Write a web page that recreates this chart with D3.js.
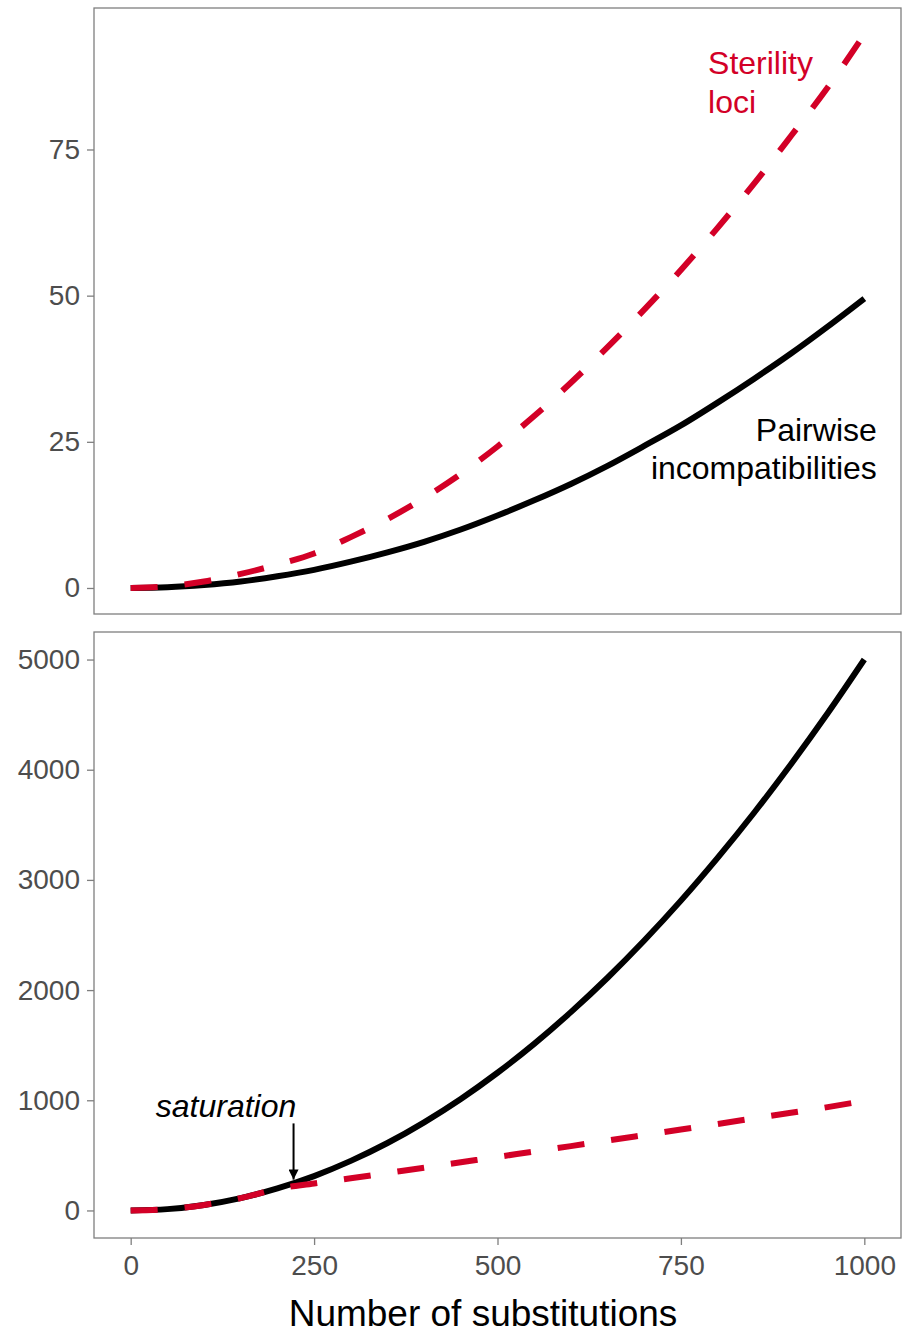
<!DOCTYPE html>
<html lang="en">
  <head>
    <script src="https://d3js.org/d3.v7.min.js"></script>
    <meta charset="utf-8">
    <style>
      body { margin: 0; background: #fff; }
      svg text { font-family: "Liberation Sans", Arial, Helvetica, sans-serif; }
      .tick text { fill: #4d4d4d; font-size: 28px; }
      .tick line { stroke: #7f7f7f; stroke-width: 1.3; }
      .domain { display: none; }
    </style>
    <title></title>
  </head>
  <body>
    <svg id="chart" width="903" height="1335"></svg>
  </body>
</html>

<script>
    // number of substitutions
    const subs = [0, 50, 100, 150, 200, 250, 300, 350, 400, 450, 500,
                  550, 600, 650, 700, 750, 800, 850, 900, 950, 1000];

    // top panel
    const pairsTop = [0, 0.12, 0.5, 1.1, 2.0, 3.1, 4.5, 6.1, 7.9, 10.0, 12.4,
                      15.0, 17.8, 20.9, 24.3, 27.8, 31.7, 35.8, 40.1, 44.7, 49.5];
    const lociTop = [0, 0.3, 1.1, 2.4, 4.0, 5.9, 8.7, 11.8, 15.4, 19.5, 24.2,
                     29.4, 35.1, 41.2, 47.6, 54.4, 61.6, 69.2, 77.3, 85.6, 94.7];

    // bottom panel
    const pairsBottom = [0, 12, 50, 112, 200, 312, 450, 612, 800, 1012, 1250,
                         1512, 1800, 2112, 2450, 2812, 3200, 3612, 4050, 4512, 5000];
    const lociBottom = [0, 12, 50, 112, 196, 245, 292, 340, 388, 437, 486,
                        535, 584, 634, 684, 734, 785, 836, 887, 938, 995];

    const topTicks = [0, 25, 50, 75];
    const bottomTicks = [0, 1000, 2000, 3000, 4000, 5000];
    const xTicks = [0, 250, 500, 750, 1000];

    const red = "#d30027";
    const svg = d3.select("#chart");

    const x = d3.scaleLinear().domain([-50, 1050]).range([94, 901]);

    const panels = [
        { top: 8, bottom: 614, domain: [-4.45, 99.2], ticks: topTicks, pairs: pairsTop, loci: lociTop, showX: false },
        { top: 632, bottom: 1238, domain: [-250, 5250], ticks: bottomTicks, pairs: pairsBottom, loci: lociBottom, showX: true }
    ];

    panels.forEach(p => {
        const y = d3.scaleLinear().domain(p.domain).range([p.bottom, p.top]);
        p.y = y;

        svg.append("g")
            .attr("transform", "translate(94,0)")
            .call(d3.axisLeft(y).tickValues(p.ticks).tickSize(7).tickPadding(7).tickFormat(d3.format("d")));

        if (p.showX) {
            svg.append("g")
                .attr("transform", `translate(0,${p.bottom})`)
                .call(d3.axisBottom(x).tickValues(xTicks).tickSize(7).tickPadding(10).tickFormat(d3.format("d")));
        }

        const line = d3.line()
            .x((d, i) => x(subs[i]))
            .y(d => y(d))
            .curve(d3.curveMonotoneX);

        svg.append("path")
            .datum(p.pairs)
            .attr("d", line)
            .attr("fill", "none")
            .attr("stroke", "black")
            .attr("stroke-width", 6);

        svg.append("path")
            .datum(p.loci)
            .attr("d", line)
            .attr("fill", "none")
            .attr("stroke", red)
            .attr("stroke-width", 6)
            .attr("stroke-dasharray", "27,27");

        // panel border
        svg.append("rect")
            .attr("x", 94)
            .attr("y", p.top)
            .attr("width", 901 - 94)
            .attr("height", p.bottom - p.top)
            .attr("fill", "none")
            .attr("stroke", "#7f7f7f")
            .attr("stroke-width", 1.3);
    });

    // labels in top panel
    const yT = panels[0].y;
    svg.append("text")
        .attr("y", yT(87.9))
        .attr("fill", red)
        .attr("font-size", 32)
        .selectAll("tspan")
        .data(["Sterility", "loci"])
        .enter().append("tspan")
        .attr("x", x(787))
        .attr("dy", (d, i) => i ? 39 : 0)
        .text(d => d);

    svg.append("text")
        .attr("y", yT(25.1))
        .attr("fill", "black")
        .attr("font-size", 32)
        .attr("text-anchor", "end")
        .selectAll("tspan")
        .data(["Pairwise", "incompatibilities"])
        .enter().append("tspan")
        .attr("x", x(1017))
        .attr("dy", (d, i) => i ? 38 : 0)
        .text(d => d);

    // saturation annotation
    const yB = panels[1].y;
    svg.append("defs").append("marker")
        .attr("id", "arrow")
        .attr("viewBox", "0 0 10 10")
        .attr("refX", 10)
        .attr("refY", 5)
        .attr("markerWidth", 6)
        .attr("markerHeight", 5)
        .attr("markerUnits", "strokeWidth")
        .attr("orient", "auto")
        .append("path")
        .attr("d", "M0,0 L10,5 L0,10 Z")
        .attr("fill", "black");

    svg.append("line")
        .attr("x1", x(222)).attr("x2", x(222))
        .attr("y1", yB(790)).attr("y2", yB(280))
        .attr("stroke", "black")
        .attr("stroke-width", 2)
        .attr("marker-end", "url(#arrow)");

    svg.append("text")
        .attr("x", x(130))
        .attr("y", yB(850))
        .attr("text-anchor", "middle")
        .attr("font-size", 32)
        .attr("font-style", "italic")
        .text("saturation");

    svg.append("text")
        .attr("x", 483)
        .attr("y", 1326)
        .attr("text-anchor", "middle")
        .attr("font-size", 37)
        .attr("fill", "black")
        .text("Number of substitutions");
</script>
